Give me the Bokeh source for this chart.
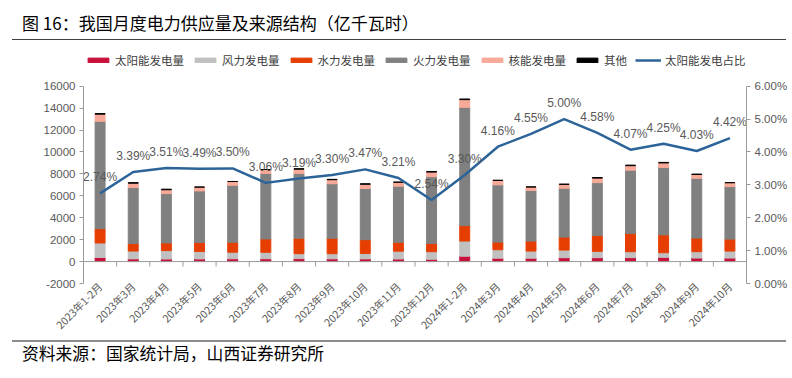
import math
from bokeh.plotting import figure
from bokeh.models import (Range1d, LinearAxis, FixedTicker, CustomJSTickFormatter,
                          Legend, LegendItem, Span, Div, ColumnDataSource)
from bokeh.core.properties import value
from bokeh.layouts import column
from bokeh.embed import file_html
from bokeh.resources import INLINE

categories = ["2023年1-2月", "2023年3月", "2023年4月", "2023年5月", "2023年6月",
              "2023年7月", "2023年8月", "2023年9月", "2023年10月", "2023年11月",
              "2023年12月", "2024年1-2月", "2024年3月", "2024年4月", "2024年5月",
              "2024年6月", "2024年7月", "2024年8月", "2024年9月", "2024年10月"]

solar   = [370, 244, 232, 237, 256, 257, 270, 248, 246, 233,
           210, 492, 310, 308, 353, 353, 358, 387, 322, 318]
wind    = [1330, 716, 770, 690, 600, 590, 450, 470, 500, 720,
           690, 1380, 770, 650, 700, 580, 540, 420, 580, 640]
hydro   = [1300, 690, 700, 820, 900, 1220, 1410, 1410, 1250, 810,
           760, 1410, 700, 910, 1180, 1450, 1660, 1630, 1240, 1090]
thermal = [9800, 5100, 4500, 4700, 5200, 5980, 5920, 4970, 4670, 5110,
           6080, 10790, 5220, 4610, 4460, 4820, 5780, 6140, 5450, 4790]
nuclear = [650, 400, 350, 350, 350, 350, 380, 370, 390, 370,
           420, 700, 410, 330, 360, 410, 410, 420, 350, 360]
other   = [50, 50, 50, 0, 0, 0, 40, 30, 40, 0,
           60, 60, 0, 0, 0, 50, 50, 50, 40, 0]
solar_share = [2.74, 3.39, 3.51, 3.49, 3.50, 3.06, 3.19, 3.30, 3.47, 3.21,
               2.54, 3.30, 4.16, 4.55, 5.00, 4.58, 4.07, 4.25, 4.03, 4.42]

left_ticks = list(range(-2000, 16001, 2000))
right_ticks = [0, 1, 2, 3, 4, 5, 6]

series_names = ["太阳能发电量", "风力发电量", "水力发电量", "火力发电量", "核能发电量", "其他"]
series_keys = ["solar", "wind", "hydro", "thermal", "nuclear", "other"]
series_colors = ["#C8103A", "#C0C0C0", "#E63E00", "#808080", "#F9A998", "#000000"]
line_name = "太阳能发电占比"
line_color = "#2C6499"

FONT_NUM = "Liberation Sans"
FONT_CJK = "Noto Sans CJK SC"
TXT = "#595959"
AX = "#9A9A9A"

# layout geometry (pixels)
AXIS_PX = 199          # height of the -2000..16000 axis span
TOP_EXTRA_PX = 38      # frame space above the axes (legend area)
LEGEND_ABOVE_BOTTOM = 215
y_lo, y_hi = -2000, 16000
y_top = y_hi + TOP_EXTRA_PX * (y_hi - y_lo) / AXIS_PX
pct_top = (y_top - y_lo) * 6 / (y_hi - y_lo)

n = len(categories)
xs = [i + 0.5 for i in range(n)]
src = ColumnDataSource(dict(x=xs, solar=solar, wind=wind, hydro=hydro, thermal=thermal,
                            nuclear=nuclear, other=other, share=solar_share,
                            label=[f"{v:.2f}%" for v in solar_share]))

p = figure(width=790, height=299, x_range=Range1d(0, n), y_range=Range1d(y_lo, y_top),
           output_backend="svg", toolbar_location=None,
           min_border_left=83, min_border_right=43, min_border_top=7, min_border_bottom=55)
p.outline_line_color = None
p.grid.visible = False
p.background_fill_color = "white"
p.border_fill_color = "white"

# left axis
ya = p.yaxis[0]
ya.ticker = FixedTicker(ticks=left_ticks)
ya.formatter = CustomJSTickFormatter(code="return String(Math.round(tick));")
ya.bounds = (y_lo, y_hi)
ya.axis_line_color = AX
ya.major_tick_line_color = AX
ya.major_tick_out = 4
ya.major_tick_in = 0
ya.minor_tick_line_color = None
ya.major_label_text_font = FONT_NUM
ya.major_label_text_font_size = "11.5px"
ya.major_label_text_color = TXT
ya.major_label_standoff = 4

# bottom axis (labels only)
xa = p.xaxis[0]
xa.ticker = FixedTicker(ticks=xs)
xa.formatter = CustomJSTickFormatter(args=dict(cats=categories),
                                     code="return cats[Math.floor(tick)];")
xa.major_label_orientation = math.pi / 4
xa.axis_line_color = None
xa.major_tick_line_color = None
xa.major_tick_out = 0
xa.major_tick_in = 0
xa.minor_tick_line_color = None
xa.minor_tick_out = 0
xa.major_label_text_font = FONT_CJK
xa.major_label_text_font_size = "10.5px"
xa.major_label_text_color = TXT
xa.major_label_standoff = 1

# right axis
p.extra_y_ranges = {"pct": Range1d(0, pct_top)}
ra = LinearAxis(y_range_name="pct", ticker=FixedTicker(ticks=right_ticks), bounds=(0, 6),
                formatter=CustomJSTickFormatter(code="return tick.toFixed(2) + '%';"))
ra.axis_line_color = AX
ra.major_tick_line_color = AX
ra.major_tick_out = 4
ra.major_tick_in = 0
ra.minor_tick_line_color = None
ra.major_label_text_font = FONT_NUM
ra.major_label_text_font_size = "11.5px"
ra.major_label_text_color = TXT
ra.major_label_standoff = 4
p.add_layout(ra, "right")

# bars
bars = p.vbar_stack(series_keys, x="x", width=0.3, color=series_colors, source=src)

# zero line & category boundary ticks
p.add_layout(Span(location=0, dimension="width", line_color=AX, line_width=1))
bounds = list(range(1, n))
p.segment(x0=bounds, y0=[0] * len(bounds), x1=bounds, y1=[-450] * len(bounds),
          line_color=AX, line_width=1)

# share line + labels
ln = p.line("x", "share", y_range_name="pct", line_color=line_color, line_width=2.5, source=src)
p.text("x", "share", text="label", y_range_name="pct", source=src,
       text_align="center", text_baseline="middle", y_offset=-16,
       text_font_size="12px", text_color=TXT, text_font=value(FONT_NUM))

items = [LegendItem(label=nm, renderers=[r]) for nm, r in zip(series_names, bars)]
items.append(LegendItem(label=line_name, renderers=[ln]))
# legend sits inside the upper (axis-free) part of the frame
legend = Legend(items=items, orientation="horizontal", location=(2, LEGEND_ABOVE_BOTTOM),
                glyph_width=26, glyph_height=6, label_height=14, label_standoff=4,
                spacing=8, padding=0, margin=0, border_line_color=None,
                background_fill_alpha=0, label_text_font=FONT_CJK,
                label_text_font_size="11.5px", label_text_color="#404040")
p.add_layout(legend, "center")

title = Div(text=('<div style="margin-left:12px;width:774px;height:40px;box-sizing:border-box;'
                  'border-bottom:1px solid #404040;padding:9px 0 0 10px;line-height:28px;'
                  'font-family:\'Noto Sans CJK SC\';font-size:17px;color:#000;white-space:nowrap;">'
                  '图 16：我国月度电力供应量及来源结构（亿千瓦时）</div>'),
            width=790, height=41, margin=(0, 0, 0, 0))
source = Div(text=('<div style="margin-left:12px;width:774px;height:30px;box-sizing:border-box;'
                   'border-top:2px solid #8C8C8C;padding-left:10px;line-height:22px;'
                   'font-family:\'Noto Sans CJK SC\';font-size:16.8px;color:#000;white-space:nowrap;">'
                   '资料来源：国家统计局，山西证券研究所</div>'),
             width=790, height=30, margin=(0, 0, 0, 0))

layout = column(title, p, source, spacing=0)
open("out.html", "w").write(file_html(layout, INLINE))
